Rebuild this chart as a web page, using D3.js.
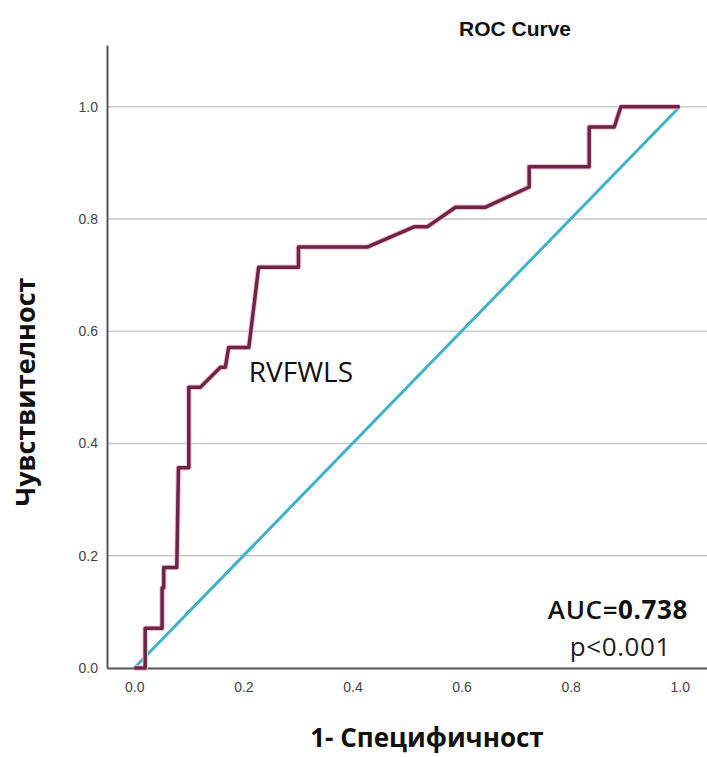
<!DOCTYPE html>
<html>
<head>
<meta charset="utf-8">
<script src="https://cdn.jsdelivr.net/npm/d3@7"></script>
<style>
  body { margin: 0; background: #fff; }
  svg { display: block; }
</style>
</head>
<body>
<svg id="roc" width="707" height="757"></svg>
<script>
// ROC data (1 - specificity, sensitivity)
var fpr = [0, 0.02, 0.02, 0.051, 0.051, 0.054, 0.054, 0.078, 0.081, 0.10, 0.10, 0.121, 0.158, 0.167, 0.173, 0.210, 0.228, 0.301, 0.301, 0.427, 0.513, 0.537, 0.589, 0.644, 0.724, 0.724, 0.834, 0.834, 0.880, 0.892, 1.0];
var tpr = [0, 0, 0.071, 0.071, 0.143, 0.143, 0.179, 0.179, 0.357, 0.357, 0.5, 0.5, 0.536, 0.536, 0.571, 0.571, 0.714, 0.714, 0.75, 0.75, 0.786, 0.786, 0.821, 0.821, 0.857, 0.893, 0.893, 0.964, 0.964, 1.0, 1.0];
var refLine = [0, 1];
var ticks = [0, 0.2, 0.4, 0.6, 0.8, 1.0];

var svg = d3.select("#roc"),
    margin = { top: 45, right: 0, bottom: 89, left: 107 },
    width = 707 - margin.left - margin.right,
    height = 757 - margin.top - margin.bottom;

var x = d3.scaleLinear().domain([-0.05, 1.05]).range([0, width]);
var y = d3.scaleLinear().domain([0, 1.11]).range([height, 0]);

var g = svg.append("g")
    .attr("transform", "translate(" + margin.left + "," + margin.top + ")");

// gridlines
g.selectAll(".grid")
    .data(ticks.filter(function (d) { return d > 0; }))
    .enter().append("line")
    .attr("x1", 0).attr("x2", width)
    .attr("y1", function (d) { return y(d); })
    .attr("y2", function (d) { return y(d); })
    .attr("stroke", "#c9c9c9")
    .attr("stroke-width", 1.5);

// axes
var yAxis = g.append("g")
    .call(d3.axisLeft(y).tickValues(ticks).tickFormat(d3.format(".1f")).tickSize(0).tickPadding(9));
var xAxis = g.append("g")
    .attr("transform", "translate(0," + height + ")")
    .call(d3.axisBottom(x).tickValues(ticks).tickFormat(d3.format(".1f")).tickSize(0).tickPadding(14));

[xAxis, yAxis].forEach(function (a) {
    a.select(".domain").attr("stroke", "#555").attr("stroke-width", 2);
    a.selectAll("text")
        .attr("fill", "#444")
        .style("font-family", "Liberation Sans, Arial, sans-serif")
        .style("font-size", "14px");
});

// reference diagonal
var line = d3.line()
    .x(function (d) { return x(d[0]); })
    .y(function (d) { return y(d[1]); });

g.append("path")
    .datum(refLine.map(function (v) { return [v, v]; }))
    .attr("fill", "none")
    .attr("stroke", "#3fb1ca")
    .attr("stroke-width", 3)
    .attr("d", line);

// ROC curve
var curve = fpr.map(function (v, i) { return [v, tpr[i]]; });
g.append("path")
    .datum(curve)
    .attr("fill", "none")
    .attr("stroke", "#f0c3d3")
    .attr("stroke-width", 5.5)
    .attr("stroke-linejoin", "round")
    .attr("d", line);
g.append("path")
    .datum(curve)
    .attr("fill", "none")
    .attr("stroke", "#6e2444")
    .attr("stroke-width", 3.5)
    .attr("stroke-linejoin", "round")
    .attr("d", line);

// texts
svg.append("text")
    .attr("x", 515).attr("y", 36)
    .attr("text-anchor", "middle")
    .style("font-family", "Liberation Sans, Arial, sans-serif")
    .style("font-weight", "bold")
    .style("font-size", "21px")
    .attr("fill", "#111")
    .text("ROC Curve");

svg.append("text")
    .attr("transform", "translate(35,392) rotate(-90)")
    .attr("text-anchor", "middle")
    .style("font-family", "Open Sans, sans-serif")
    .style("font-weight", "bold")
    .style("font-size", "27px")
    .attr("fill", "#111")
    .text("Чувствителност");

svg.append("text")
    .attr("x", 427).attr("y", 747)
    .attr("text-anchor", "middle")
    .style("font-family", "Open Sans, sans-serif")
    .style("font-weight", "bold")
    .style("font-size", "26px")
    .attr("fill", "#111")
    .text("1- Специфичност");

g.append("text")
    .attr("x", x(0.21)).attr("y", y(0.51))
    .style("font-family", "Open Sans, sans-serif")
    .style("font-size", "28px")
    .attr("fill", "#111")
    .text("RVFWLS");

var auc = svg.append("text")
    .attr("x", 688).attr("y", 619)
    .attr("text-anchor", "end")
    .style("font-family", "Open Sans, sans-serif")
    .style("font-size", "26px")
    .style("letter-spacing", "0.6px")
    .attr("fill", "#111");
auc.append("tspan").style("font-weight", "600").text("AUC=");
auc.append("tspan").style("font-weight", "bold").text("0.738");

svg.append("text")
    .attr("x", 671).attr("y", 656)
    .attr("text-anchor", "end")
    .style("font-family", "Open Sans, sans-serif")
    .style("font-size", "26px")
    .style("letter-spacing", "0.6px")
    .attr("fill", "#222")
    .text("p<0.001");
</script>
</body>
</html>
